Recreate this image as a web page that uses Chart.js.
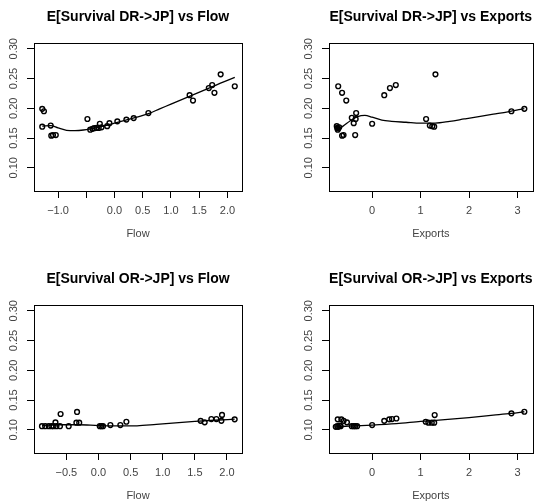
<!DOCTYPE html>
<html>
<head>
<meta charset="utf-8">
<title>E[Survival] vs Flow and Exports</title>
<script src="https://cdn.jsdelivr.net/npm/chart.js@4.4.1/dist/chart.umd.min.js"></script>
<style>
  html, body { margin: 0; padding: 0; background: #fff; overflow: hidden; }
  canvas { position: absolute; }
</style>
</head>
<body>
<canvas id="dr-flow" width="269" height="262" style="left:0;top:0"></canvas>
<canvas id="dr-exports" width="243" height="262" style="left:295px;top:0"></canvas>
<canvas id="or-flow" width="269" height="241" style="left:0;top:262px"></canvas>
<canvas id="or-exports" width="243" height="241" style="left:295px;top:262px"></canvas>
<script>
// tick positions and labels
const survTicks = [0.10, 0.15, 0.20, 0.25, 0.30];
const survTickLabels = ['0.10', '0.15', '0.20', '0.25', '0.30'];
const flowTicksDR = [-1.0, -0.5, 0.0, 0.5, 1.0, 1.5, 2.0];
const flowTickLabelsDR = ['\u22121.0', '', '0.0', '0.5', '1.0', '1.5', '2.0'];
const flowTicksOR = [-0.5, 0.0, 0.5, 1.0, 1.5, 2.0];
const flowTickLabelsOR = ['\u22120.5', '0.0', '0.5', '1.0', '1.5', '2.0'];
const exportTicks = [0, 1, 2, 3];
const exportTickLabels = ['0', '1', '2', '3'];

// DR->JP against Flow
const drFlowX = [-1.28, -1.25, -1.28, -1.13, -1.12, -1.09, -1.04, -0.48, -0.43, -0.39, -0.36, -0.32, -0.28, -0.26, -0.23,
                 -0.13, -0.09, 0.05, 0.21, 0.34, 0.60, 1.33, 1.39, 1.67, 1.73, 1.77, 1.88, 2.13];
const drFlowY = [0.199, 0.195, 0.169, 0.171, 0.154, 0.155, 0.155, 0.182, 0.164, 0.1655, 0.1665, 0.167, 0.167, 0.174, 0.168,
                 0.170, 0.175, 0.178, 0.181, 0.1835, 0.192, 0.222, 0.213, 0.234, 0.239, 0.226, 0.257, 0.237];
const drFlowFitX = [-1.28, -1.13, -1.0, -0.85, -0.7, -0.55, -0.4, -0.2, 0.0, 0.2, 0.4, 0.6, 0.8, 1.0, 1.2, 1.4, 1.6, 1.8, 2.0, 2.13];
const drFlowFitY = [0.170, 0.171, 0.167, 0.163, 0.1625, 0.1635, 0.166, 0.170, 0.175, 0.180, 0.185, 0.191, 0.199, 0.207, 0.215,
                    0.223, 0.231, 0.239, 0.247, 0.252];

// DR->JP against Exports
const drExpX = [-0.70, -0.62, -0.534, -0.73, -0.72, -0.70, -0.68, -0.71, -0.62, -0.59, -0.33, -0.42, -0.38, -0.34, -0.35,
                0.00, 0.25, 0.367, 0.488, 1.306, 1.113, 1.19, 1.24, 1.28, 2.873, 3.14];
const drExpY = [0.237, 0.226, 0.213, 0.170, 0.167, 0.166, 0.168, 0.164, 0.154, 0.155, 0.192, 0.184, 0.175, 0.182, 0.155,
                0.174, 0.222, 0.234, 0.239, 0.257, 0.182, 0.171, 0.170, 0.169, 0.195, 0.199];
const drExpFitX = [-0.74, -0.6, -0.45, -0.3, -0.15, 0.0, 0.2, 0.4, 0.7, 1.0, 1.3, 1.6, 1.9, 2.2, 2.5, 2.8, 3.14];
const drExpFitY = [0.163, 0.170, 0.179, 0.186, 0.188, 0.185, 0.180, 0.178, 0.1765, 0.175, 0.175, 0.178, 0.182, 0.186, 0.190,
                   0.194, 0.1995];

// OR->JP against Flow
const orFlowX = [-0.88, -0.83, -0.775, -0.733, -0.70, -0.655, -0.60, -0.67, -0.59, -0.464, -0.334, -0.344, -0.30,
                 0.02, 0.045, 0.07, 0.185, 0.34, 0.434, 1.59, 1.653, 1.757, 1.835, 1.923, 1.913, 2.12];
const orFlowY = [0.106, 0.106, 0.106, 0.106, 0.106, 0.106, 0.106, 0.1125, 0.1265, 0.106, 0.130, 0.112, 0.112,
                 0.106, 0.106, 0.106, 0.108, 0.108, 0.1135, 0.115, 0.1125, 0.118, 0.118, 0.125, 0.115, 0.1175];
const orFlowFitX = [-0.88, -0.6, -0.3, 0.0, 0.3, 0.6, 0.9, 1.2, 1.5, 1.8, 2.12];
const orFlowFitY = [0.1075, 0.1085, 0.1085, 0.107, 0.1065, 0.1067, 0.109, 0.1115, 0.114, 0.116, 0.1178];

// OR->JP against Exports
const orExpX = [-0.75, -0.72, -0.70, -0.67, -0.65, -0.71, -0.635, -0.588, -0.52, -0.42, -0.38, -0.35, -0.31,
                0.0, 0.25, 0.353, 0.41, 0.50, 1.105, 1.16, 1.23, 1.28, 1.29, 2.873, 3.14];
const orExpY = [0.105, 0.106, 0.105, 0.107, 0.106, 0.1175, 0.1175, 0.115, 0.1125, 0.106, 0.106, 0.106, 0.106,
                0.108, 0.115, 0.1175, 0.118, 0.119, 0.1135, 0.112, 0.112, 0.112, 0.1248, 0.1276, 0.1303];
const orExpFitX = [-0.75, -0.4, 0.0, 0.5, 1.0, 1.5, 2.0, 2.5, 2.87, 3.14];
const orExpFitY = [0.105, 0.1065, 0.108, 0.1105, 0.114, 0.117, 0.1205, 0.1245, 0.1275, 0.1303];

const FONT = "'Liberation Sans', Arial, Helvetica, sans-serif";
const LABEL_COLOR = '#444';

function toPoints(xs, ys) {
    return xs.map((x, i) => ({ x: x, y: ys[i] }));
}

// box around the plot region plus the rotated y tick labels
const framePlugin = {
    id: 'frame',
    afterDraw(chart) {
        const { ctx, chartArea: a } = chart;
        const yScale = chart.scales.y;
        ctx.save();
        ctx.strokeStyle = '#000';
        ctx.lineWidth = 1;
        ctx.strokeRect(Math.round(a.left) + 0.5, Math.round(a.top) + 0.5,
                       Math.round(a.right - a.left), Math.round(a.bottom - a.top));

        ctx.fillStyle = LABEL_COLOR;
        ctx.font = '11px ' + FONT;
        ctx.textAlign = 'center';
        ctx.textBaseline = 'middle';
        yScale.ticks.forEach((t, i) => {
            const py = yScale.getPixelForValue(t.value);
            ctx.save();
            ctx.translate(a.left - 20, py);
            ctx.rotate(-Math.PI / 2);
            ctx.fillText(survTickLabels[i], 0, 0);
            ctx.restore();
        });
        ctx.restore();
    }
};

function makePanel(id, cfg) {
    const tickGrid = { drawOnChartArea: false, drawTicks: true, tickLength: 7, color: '#000', lineWidth: 1 };

    new Chart(document.getElementById(id), {
        type: 'scatter',
        data: {
            datasets: [
                {
                    data: toPoints(cfg.x, cfg.y),
                    showLine: false,
                    pointStyle: 'circle',
                    pointRadius: 2.4,
                    pointBorderWidth: 1.4,
                    borderColor: '#000',
                    backgroundColor: 'rgba(0,0,0,0)'
                },
                {
                    data: toPoints(cfg.fitX, cfg.fitY),
                    showLine: true,
                    pointRadius: 0,
                    borderColor: '#000',
                    borderWidth: 1.3,
                    cubicInterpolationMode: 'monotone'
                }
            ]
        },
        options: {
            responsive: false,
            animation: false,
            events: [],
            layout: { padding: { left: 0, right: cfg.padRight, top: 0, bottom: cfg.padBottom } },
            plugins: {
                legend: { display: false },
                tooltip: { enabled: false },
                title: {
                    display: true,
                    text: cfg.title,
                    fullSize: false,
                    color: '#000',
                    font: { family: FONT, size: 14, weight: 'bold' },
                    padding: { top: 9, bottom: 17 }
                }
            },
            scales: {
                x: {
                    type: 'linear',
                    min: cfg.xMin,
                    max: cfg.xMax,
                    afterBuildTicks: s => { s.ticks = cfg.xTicks.map(v => ({ value: v })); },
                    afterFit: s => { s.height = 50; },
                    ticks: {
                        autoSkip: false,
                        maxRotation: 0,
                        padding: 6,
                        color: LABEL_COLOR,
                        font: { family: FONT, size: 11 },
                        callback: (v, i) => cfg.xLabels[i]
                    },
                    grid: tickGrid,
                    border: { display: false },
                    title: {
                        display: true,
                        text: cfg.xTitle,
                        color: LABEL_COLOR,
                        font: { family: FONT, size: 11 },
                        padding: 0
                    }
                },
                y: {
                    type: 'linear',
                    min: 0.061,
                    max: 0.310,
                    afterBuildTicks: s => { s.ticks = survTicks.map(v => ({ value: v })); },
                    afterFit: s => { s.width = 34; },
                    ticks: { display: false },
                    grid: tickGrid,
                    border: { display: false }
                }
            }
        },
        plugins: [framePlugin]
    });
}

makePanel('dr-flow', {
    title: 'E[Survival DR->JP] vs Flow', xTitle: 'Flow',
    x: drFlowX, y: drFlowY, fitX: drFlowFitX, fitY: drFlowFitY,
    xMin: -1.426, xMax: 2.258, xTicks: flowTicksDR, xLabels: flowTickLabelsDR,
    padRight: 27, padBottom: 21
});
makePanel('dr-exports', {
    title: 'E[Survival DR->JP] vs Exports', xTitle: 'Exports',
    x: drExpX, y: drExpY, fitX: drExpFitX, fitY: drExpFitY,
    xMin: -0.89, xMax: 3.31, xTicks: exportTicks, xLabels: exportTickLabels,
    padRight: 1, padBottom: 21
});
makePanel('or-flow', {
    title: 'E[Survival OR->JP] vs Flow', xTitle: 'Flow',
    x: orFlowX, y: orFlowY, fitX: orFlowFitX, fitY: orFlowFitY,
    xMin: -1.004, xMax: 2.234, xTicks: flowTicksOR, xLabels: flowTickLabelsOR,
    padRight: 27, padBottom: 0
});
makePanel('or-exports', {
    title: 'E[Survival OR->JP] vs Exports', xTitle: 'Exports',
    x: orExpX, y: orExpY, fitX: orExpFitX, fitY: orExpFitY,
    xMin: -0.89, xMax: 3.31, xTicks: exportTicks, xLabels: exportTickLabels,
    padRight: 1, padBottom: 0
});
</script>
</body>
</html>
